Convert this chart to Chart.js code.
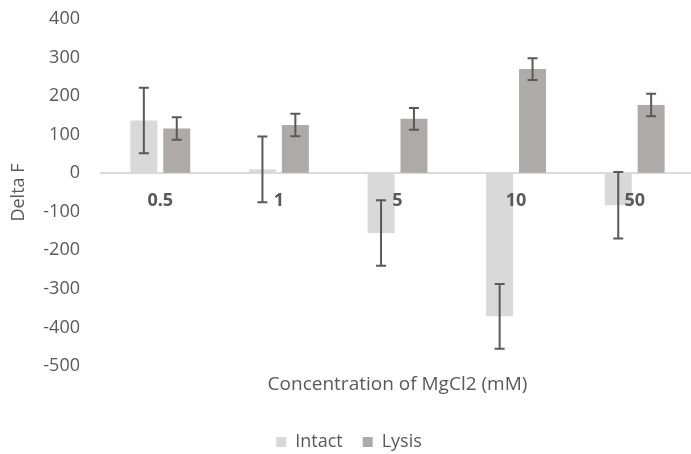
<!DOCTYPE html>
<html>
<head>
<meta charset="utf-8">
<script src="https://cdn.jsdelivr.net/npm/chart.js@4/dist/chart.umd.min.js"></script>
<style>
  html, body { margin: 0; padding: 0; background: #fff; overflow: hidden; }
  #wrap { width: 704px; height: 461px; }
</style>
</head>
<body>
<div id="wrap"><canvas id="chart" width="704" height="461"></canvas></div>
<script>
// concentrations (mM)
const categories = ['0.5', '1', '5', '10', '50'];
const intactValues = [137, 10, -155, -371, -83];
const intactErrors = [85, 85, 85, 84, 86];
const lysisValues = [116, 125, 141, 270, 177];
const lysisErrors = [29, 29, 28, 28, 29];
const yTicks = [400, 300, 200, 100, 0, -100, -200, -300, -400, -500];

const textColor = '#595959';
const fontFamily = '"Open Sans", "Liberation Sans", sans-serif';

// draws the +/- error whiskers on top of every bar
const errorBars = {
    id: 'errorBars',
    afterDatasetsDraw(chart) {
        const ctx = chart.ctx;
        const y = chart.scales.y;
        ctx.save();
        ctx.strokeStyle = '#595959';
        ctx.lineWidth = 2;
        chart.data.datasets.forEach((ds, di) => {
            const meta = chart.getDatasetMeta(di);
            meta.data.forEach((bar, i) => {
                const v = ds.data[i];
                const e = ds.errors[i];
                const top = y.getPixelForValue(v + e);
                const bottom = y.getPixelForValue(v - e);
                const x = bar.x;
                ctx.beginPath();
                ctx.moveTo(x, top);
                ctx.lineTo(x, bottom);
                ctx.moveTo(x - 5, top);
                ctx.lineTo(x + 5, top);
                ctx.moveTo(x - 5, bottom);
                ctx.lineTo(x + 5, bottom);
                ctx.stroke();
            });
        });
        ctx.restore();
    }
};

new Chart(document.getElementById('chart'), {
    type: 'bar',
    data: {
        labels: categories,
        datasets: [
            {
                label: 'Intact',
                data: intactValues,
                errors: intactErrors,
                backgroundColor: '#d9d9d9',
                borderWidth: 0
            },
            {
                label: 'Lysis',
                data: lysisValues,
                errors: lysisErrors,
                backgroundColor: '#aeaaaa',
                borderWidth: 0
            }
        ]
    },
    options: {
        responsive: false,
        animation: false,
        devicePixelRatio: 1,
        categoryPercentage: 0.555,
        barPercentage: 0.82,
        layout: {
            padding: { top: 19, right: 10, bottom: 0, left: 4 }
        },
        plugins: {
            tooltip: { enabled: false },
            legend: {
                position: 'bottom',
                labels: {
                    boxWidth: 10,
                    boxHeight: 10,
                    padding: 20,
                    color: textColor,
                    font: { family: fontFamily, size: 18 }
                }
            }
        },
        scales: {
            x: {
                position: { y: 0 },
                grid: { display: false, drawTicks: false },
                border: { display: true, color: '#d9d9d9', width: 2 },
                ticks: {
                    z: 1,
                    padding: 17,
                    color: textColor,
                    font: { family: fontFamily, size: 18, weight: 'bold' }
                }
            },
            x2: {
                type: 'category',
                position: 'bottom',
                grid: { display: false, drawTicks: false },
                border: { display: false },
                ticks: { display: false },
                title: {
                    display: true,
                    text: 'Concentration of MgCl2 (mM)',
                    color: textColor,
                    padding: { top: 4, bottom: 17 },
                    font: { family: fontFamily, size: 19 }
                },
                afterFit: s => { s.height = 47; }
            },
            y: {
                min: -500,
                max: 400,
                afterBuildTicks: s => { s.ticks = yTicks.map(v => ({ value: v })); },
                // invisible tick marks give the gap between labels and plot
                grid: {
                    display: true,
                    drawOnChartArea: false,
                    drawTicks: true,
                    tickLength: 18,
                    color: 'rgba(0,0,0,0)'
                },
                border: { display: false },
                ticks: {
                    padding: 3,
                    color: textColor,
                    font: { family: fontFamily, size: 18 }
                },
                title: {
                    display: true,
                    text: 'Delta F',
                    color: textColor,
                    padding: { top: 4, bottom: 4 },
                    font: { family: fontFamily, size: 18 }
                },
                afterFit: s => { s.width = 97; }
            }
        }
    },
    plugins: [errorBars]
});
</script>
</body>
</html>
